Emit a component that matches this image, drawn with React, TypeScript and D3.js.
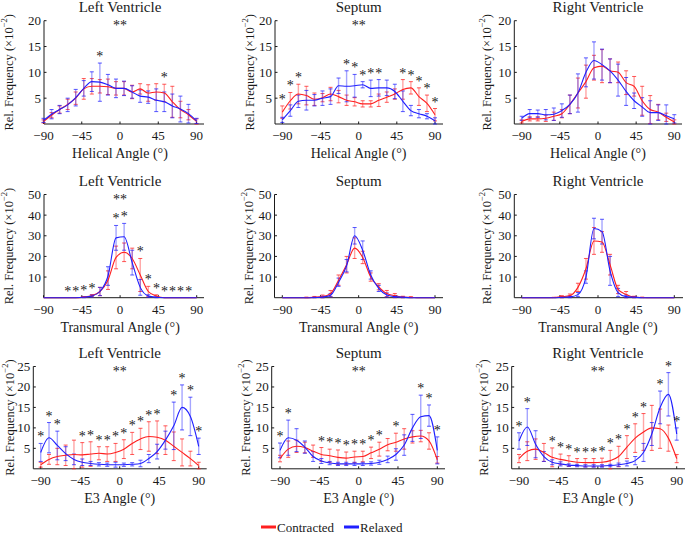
import React from 'react';
import * as d3 from 'd3';

// bin centres (degrees)
const angles = [-90, -80.53, -71.05, -61.58, -52.11, -42.63, -33.16, -23.68, -14.21, -4.74, 4.74, 14.21, 23.68, 33.16, 42.63, 52.11, 61.58, 71.05, 80.53, 90];
const xTicks = [-90, -45, 0, 45, 90];

// ---------- Helical angle ----------
const lvHelC = [0.5, 1.7, 2.8, 3.8, 5.0, 6.8, 7.3, 7.3, 7.2, 6.9, 6.9, 6.2, 6.8, 6.0, 6.2, 6.0, 4.3, 2.8, 1.8, 0.5];
const lvHelCsd = [0.3, 0.5, 0.7, 1.0, 1.2, 2.0, 1.5, 1.3, 1.5, 1.3, 1.3, 1.3, 1.0, 1.6, 1.6, 1.7, 3.0, 1.6, 1.0, 0.5];
const lvHelR = [0.7, 1.9, 2.8, 3.7, 5.1, 6.9, 8.2, 8.1, 7.6, 6.9, 6.9, 6.2, 5.4, 5.2, 4.6, 4.3, 3.5, 2.9, 2.0, 0.6];
const lvHelRsd = [0.4, 0.9, 0.8, 1.3, 1.6, 1.5, 1.9, 3.7, 2.0, 1.8, 1.4, 1.2, 1.2, 1.2, 2.2, 1.9, 2.3, 2.5, 1.8, 0.5];
const lvHelStars = [7, 15];

const sepHelC = [2.3, 4.5, 5.8, 5.5, 4.8, 5.1, 5.8, 5.3, 4.6, 4.3, 3.9, 3.9, 4.6, 5.2, 5.8, 6.7, 7.0, 5.3, 4.0, 1.8];
const sepHelCsd = [1.2, 1.6, 1.9, 1.8, 1.2, 0.8, 1.3, 1.2, 1.0, 0.8, 0.6, 0.6, 1.2, 1.0, 1.0, 1.9, 1.2, 1.7, 1.6, 1.2];
const sepHelR = [0.8, 2.6, 4.4, 4.6, 4.6, 5.0, 5.3, 7.4, 7.3, 7.4, 7.6, 6.9, 7.0, 7.0, 6.3, 4.4, 2.6, 2.0, 1.5, 0.6];
const sepHelRsd = [0.5, 1.1, 1.2, 1.9, 1.1, 1.4, 1.5, 1.5, 3.0, 2.2, 0.6, 1.6, 1.6, 1.5, 1.4, 2.0, 1.0, 0.8, 0.5, 0.6];
const sepHelStars = [0, 1, 2, 8, 9, 10, 11, 12, 15, 16, 17, 18, 19];

const rvHelC = [0.5, 1.0, 1.0, 1.1, 1.5, 2.0, 3.8, 6.0, 8.2, 10.9, 11.2, 10.3, 10.0, 8.0, 7.3, 4.5, 2.8, 2.3, 1.3, 0.4];
const rvHelCsd = [0.3, 0.4, 0.4, 0.6, 0.8, 0.8, 1.8, 2.9, 3.2, 2.4, 3.2, 2.3, 2.0, 2.3, 1.9, 2.8, 2.7, 1.5, 0.8, 0.4];
const rvHelR = [1.1, 2.0, 2.0, 1.8, 1.9, 2.6, 3.8, 6.0, 10.0, 12.3, 11.5, 10.3, 8.5, 6.3, 4.5, 3.3, 2.2, 2.2, 1.6, 1.0];
const rvHelRsd = [0.4, 0.8, 0.7, 1.0, 1.2, 1.3, 1.8, 3.7, 2.8, 3.6, 3.0, 2.3, 3.1, 2.7, 1.5, 1.8, 2.3, 1.5, 2.1, 0.8];
const rvHelStars: number[] = [];

// ---------- Transmural angle ----------
const lvTraC = [0, 0, 0, 0, 0, 0.3, 1.0, 3.0, 8.5, 19.5, 22, 19, 11, 3, 0.8, 0, 0, 0, 0, 0];
const lvTraCsd = [0, 0, 0, 0, 0, 0.2, 0.5, 2, 4.5, 5.5, 4.5, 5, 8, 2.5, 0.6, 0, 0, 0, 0, 0];
const lvTraR = [0, 0, 0, 0, 0, 0.2, 0.8, 3.0, 10.5, 29, 29.5, 17, 5, 0.8, 0.2, 0, 0, 0, 0, 0];
const lvTraRsd = [0, 0, 0, 0, 0, 0.2, 0.5, 2, 4.5, 6, 6.5, 6, 3.8, 0.6, 0.2, 0, 0, 0, 0, 0];
const lvTraStars = [3, 4, 5, 6, 9, 10, 12, 13, 14, 15, 16, 17, 18];

const sepTraC = [0, 0, 0, 0, 0.2, 0.5, 2.0, 8.5, 16, 24, 19.5, 10, 5.3, 2, 1, 0.3, 0.2, 0, 0, 0];
const sepTraCsd = [0, 0, 0, 0.3, 0.4, 0.8, 1.5, 2.5, 4, 5, 3, 2, 1.5, 1.5, 1, 0.4, 0.3, 0, 0, 0];
const sepTraR = [0, 0, 0, 0, 0.1, 0.3, 1.2, 7.5, 15.5, 30, 23, 11, 4.5, 1.3, 0.5, 0.2, 0, 0, 0, 0];
const sepTraRsd = [0, 0, 0, 0, 0.2, 0.4, 0.8, 2, 3, 4, 4.5, 2, 1.5, 1, 0.4, 0.2, 0, 0, 0, 0];
const sepTraStars: number[] = [];

const rvTraC = [0, 0, 0, 0, 0.1, 0.5, 1.0, 5, 14, 27.5, 27, 16, 4, 1.5, 0.3, 0.1, 0, 0, 0, 0];
const rvTraCsd = [0, 0, 0, 0, 0.1, 0.5, 0.8, 2, 5, 6.5, 5, 5, 2, 1.5, 0.4, 0.2, 0, 0, 0, 0];
const rvTraR = [0, 0, 0, 0, 0, 0.2, 0.4, 1.5, 10, 33.5, 32, 13, 2.5, 0.5, 0.2, 0, 0, 0, 0, 0];
const rvTraRsd = [0, 0, 0, 0, 0, 0.2, 0.4, 1, 3, 5, 6, 7, 2, 0.8, 0.3, 0, 0, 0, 0, 0];
const rvTraStars: number[] = [];

// ---------- E3 angle ----------
const lvE3C = [1.0, 2.3, 3.0, 3.3, 3.5, 3.4, 3.6, 3.8, 3.6, 4.0, 4.8, 6.2, 7.3, 7.9, 7.7, 7.0, 5.5, 4.0, 2.5, 0.8];
const lvE3Csd = [0.6, 1.2, 2.0, 2.5, 3.5, 3.0, 3.0, 1.6, 1.8, 2.2, 2.3, 2.7, 2.6, 3.6, 4.0, 3.5, 3.5, 3.3, 1.8, 0.8];
const lvE3R = [4.0, 7.6, 5.7, 3.7, 2.3, 1.6, 1.3, 1.1, 1.0, 1.0, 1.0, 1.1, 1.3, 2.5, 4.2, 7.0, 10.5, 15.0, 12.8, 5.5];
const lvE3Rsd = [2.2, 3.7, 3.5, 1.7, 1.3, 0.8, 0.5, 0.4, 0.4, 0.6, 0.4, 0.4, 0.8, 1.0, 1.8, 2.2, 5.8, 5.5, 4.7, 2.0];
const lvE3Stars = [0, 1, 2, 5, 6, 7, 8, 9, 10, 11, 12, 13, 14, 16, 17, 18, 19];

const sepE3C = [2.5, 4.8, 5.5, 5.2, 4.3, 3.5, 3.2, 2.8, 2.6, 2.9, 3.0, 3.9, 4.8, 5.9, 6.5, 7.3, 7.8, 8.0, 6.8, 2.2];
const sepE3Csd = [0.8, 2.0, 1.5, 1.3, 1.5, 1.7, 1.6, 1.8, 1.5, 1.4, 1.3, 1.4, 1.7, 1.5, 2.2, 2.5, 1.5, 1.4, 2.0, 0.8];
const sepE3R = [4.5, 7.6, 7.0, 5.3, 3.0, 1.9, 1.4, 1.2, 1.2, 1.2, 1.2, 1.3, 1.6, 2.3, 3.5, 5.8, 10.0, 12.7, 13.0, 4.5];
const sepE3Rsd = [1.8, 4.3, 2.8, 1.5, 1.2, 0.6, 0.4, 0.4, 0.4, 0.4, 0.4, 0.4, 0.5, 0.8, 1.4, 2.5, 3.3, 5.3, 2.6, 3.3];
const sepE3Stars = [0, 1, 5, 6, 7, 8, 9, 10, 11, 12, 14, 17, 18, 19];

const rvE3C = [2.5, 4.3, 4.8, 4.0, 2.8, 2.3, 1.9, 1.6, 1.5, 1.5, 1.6, 2.0, 3.0, 5.3, 7.5, 9.0, 10.0, 9.8, 7.5, 2.5];
const rvE3Csd = [1.0, 2.3, 2.5, 2.2, 2.3, 1.3, 1.3, 0.9, 1.0, 1.0, 1.0, 2.5, 2.5, 2.8, 3.5, 4.5, 5.5, 4.8, 3.2, 1.0];
const rvE3R = [6.8, 10.2, 6.0, 3.0, 1.6, 1.2, 0.9, 0.8, 0.7, 0.7, 0.7, 0.8, 1.0, 1.3, 2.0, 4.0, 8.5, 15.0, 18.2, 8.5];
const rvE3Rsd = [2.0, 4.5, 3.3, 1.2, 0.6, 0.5, 0.3, 0.3, 0.3, 0.3, 0.3, 0.3, 0.4, 0.6, 1.0, 2.2, 2.8, 4.0, 5.3, 1.5];
const rvE3Stars = [0, 1, 4, 5, 6, 7, 8, 9, 10, 11, 12, 13, 14, 15, 17, 18, 19];

const titles = ['Left Ventricle', 'Septum', 'Right Ventricle'];
const xLabels = ['Helical Angle (°)', 'Transmural Angle (°)', 'E3 Angle (°)'];
const yMaxes = [20, 50, 25];
const yTickSets = [[5, 10, 15, 20], [10, 20, 30, 40, 50], [5, 10, 15, 20, 25]];
const allSig = [[true, true, false], [true, false, false], [true, true, true]];
const legendLabels = ['Contracted', 'Relaxed'];

const RED = '#ff1f1f';
const BLUE = '#1f1fff';
const FONT = "'Liberation Serif', 'DejaVu Serif', serif";

const panelData = [
  [
    { c: lvHelC, cs: lvHelCsd, r: lvHelR, rs: lvHelRsd, stars: lvHelStars },
    { c: sepHelC, cs: sepHelCsd, r: sepHelR, rs: sepHelRsd, stars: sepHelStars },
    { c: rvHelC, cs: rvHelCsd, r: rvHelR, rs: rvHelRsd, stars: rvHelStars },
  ],
  [
    { c: lvTraC, cs: lvTraCsd, r: lvTraR, rs: lvTraRsd, stars: lvTraStars },
    { c: sepTraC, cs: sepTraCsd, r: sepTraR, rs: sepTraRsd, stars: sepTraStars },
    { c: rvTraC, cs: rvTraCsd, r: rvTraR, rs: rvTraRsd, stars: rvTraStars },
  ],
  [
    { c: lvE3C, cs: lvE3Csd, r: lvE3R, rs: lvE3Rsd, stars: lvE3Stars },
    { c: sepE3C, cs: sepE3Csd, r: sepE3R, rs: sepE3Rsd, stars: sepE3Stars },
    { c: rvE3C, cs: rvE3Csd, r: rvE3R, rs: rvE3Rsd, stars: rvE3Stars },
  ],
];

// layout (pixels)
const rowLayout = [
  { top: 20.7, bot: 124 },
  { top: 194.5, bot: 297.7 },
  { top: 366.5, bot: 468.8 },
];
const colLayout = [
  [
    { x0: 43.5, x1: 196.5, axL: 44, axR: 204, yl: 8.5 },
    { x0: 282.3, x1: 435, axL: 275, axR: 443, yl: 250 },
    { x0: 521.7, x1: 674.3, axL: 514.3, axR: 682, yl: 487 },
  ],
  [
    { x0: 43.5, x1: 196.7, axL: 44, axR: 204, yl: 8.5 },
    { x0: 282.3, x1: 435, axL: 274.5, axR: 443, yl: 249 },
    { x0: 521.7, x1: 674.3, axL: 514.3, axR: 683, yl: 487 },
  ],
  [
    { x0: 40.7, x1: 198.7, axL: 33.3, axR: 206.7, yl: 9.5 },
    { x0: 280, x1: 437.3, axL: 271.7, axR: 445, yl: 246 },
    { x0: 519, x1: 676.7, axL: 511.7, axR: 685, yl: 484 },
  ],
];

function Panel({ row, col }: { row: number; col: number }) {
  const d = panelData[row][col];
  const rl = rowLayout[row];
  const cl = colLayout[row][col];
  const x = d3.scaleLinear().domain([-90, 90]).range([cl.x0, cl.x1]);
  const y = d3.scaleLinear().domain([0, yMaxes[row]]).range([rl.bot, rl.top]);
  const line = d3
    .line<number>()
    .x((_, i) => x(angles[i]))
    .y((v) => y(v))
    .curve(d3.curveMonotoneX);
  const series = [
    { m: d.c, s: d.cs, color: RED },
    { m: d.r, s: d.rs, color: BLUE },
  ];
  const cap = 2;
  const ink = '#1a1a1a';
  return (
    <g>
      {/* axes */}
      <line x1={cl.axL} x2={cl.axR} y1={rl.bot} y2={rl.bot} stroke={ink} strokeWidth={1} />
      <line x1={cl.axL} x2={cl.axL} y1={rl.top} y2={rl.bot} stroke={ink} strokeWidth={1} />
      {xTicks.map((t) => (
        <g key={'xt' + t}>
          <line x1={x(t)} x2={x(t)} y1={rl.bot} y2={rl.bot - 2.5} stroke={ink} />
          <text x={x(t)} y={rl.bot + 16} textAnchor="middle" fontSize={13} fontFamily={FONT} fill={ink}>
            {t < 0 ? '\u2212' + Math.abs(t) : String(t)}
          </text>
        </g>
      ))}
      {yTickSets[row].map((t) => (
        <g key={'yt' + t}>
          <line x1={cl.axL} x2={cl.axL + 2.5} y1={y(t)} y2={y(t)} stroke={ink} />
          <text x={cl.axL - 3} y={y(t) + 4.5} textAnchor="end" fontSize={13} fontFamily={FONT} fill={ink}>
            {t}
          </text>
        </g>
      ))}
      <text
        transform={`translate(${cl.yl},${(rl.top + rl.bot) / 2}) rotate(-90)`}
        textAnchor="middle"
        dominantBaseline="central"
        fontSize={12.5}
        fontFamily={FONT}
        fill={ink}
      >
        Rel. Frequency (×10<tspan dy={-5} fontSize={8.5}>−2</tspan>
        <tspan dy={5}>)</tspan>
      </text>
      <text x={x(0)} y={rl.top - 8.3} textAnchor="middle" fontSize={15} fontFamily={FONT} fill={ink}>
        {titles[col]}
      </text>
      <text x={x(0)} y={rl.bot + 34} textAnchor="middle" fontSize={14} fontFamily={FONT} fill={ink}>
        {xLabels[row]}
      </text>
      {/* error bars */}
      {series.map((sr, si) => (
        <g key={'eb' + si}>
          {sr.m.map((v, i) => {
            if (sr.s[i] <= 0 && v <= 0) return null;
            const xx = x(angles[i]);
            const y1 = y(v + sr.s[i]);
            const y2 = y(Math.max(0, v - sr.s[i]));
            return (
              <g key={i}>
                <line x1={xx} x2={xx} y1={y1} y2={y2} stroke={sr.color} strokeWidth={1.4} strokeOpacity={0.4} />
                <line x1={xx - cap} x2={xx + cap} y1={y1} y2={y1} stroke={sr.color} strokeWidth={1} strokeOpacity={0.75} />
                <line x1={xx - cap} x2={xx + cap} y1={y2} y2={y2} stroke={sr.color} strokeWidth={1} strokeOpacity={0.75} />
              </g>
            );
          })}
        </g>
      ))}
      {/* lines */}
      {series.map((sr, si) => (
        <path key={'ln' + si} d={line(sr.m) || ''} fill="none" stroke={sr.color} strokeWidth={1.1} />
      ))}
      {/* significance */}
      {d.stars.map((i) => {
        const top = Math.max(d.c[i] + d.cs[i], d.r[i] + d.rs[i]);
        return (
          <text key={'st' + i} x={x(angles[i])} y={y(top) - 2} textAnchor="middle" fontSize={14} fontFamily={FONT} fill={ink}>
            *
          </text>
        );
      })}
      {allSig[row][col] && (
        <text x={x(0)} y={rl.top + 9} textAnchor="middle" fontSize={14} fontFamily={FONT} fill={ink}>
          **
        </text>
      )}
    </g>
  );
}

export default function App() {
  const legendColors = [RED, BLUE];
  const legendX = [261, 344];
  return (
    <svg width={685} height={533} style={{ position: 'absolute', left: 0, top: 0, background: '#fff' }}>
      <rect width={685} height={533} fill="#fff" />
      {[0, 1, 2].map((r) => [0, 1, 2].map((c) => <Panel key={r + '-' + c} row={r} col={c} />))}
      {legendLabels.map((l, i) => (
        <g key={l}>
          <line x1={legendX[i]} x2={legendX[i] + 15} y1={527} y2={527} stroke={legendColors[i]} strokeWidth={3} />
          <text x={legendX[i] + 16} y={531.5} fontSize={13} fontFamily={FONT} fill="#1a1a1a">
            {l}
          </text>
        </g>
      ))}
    </svg>
  );
}
